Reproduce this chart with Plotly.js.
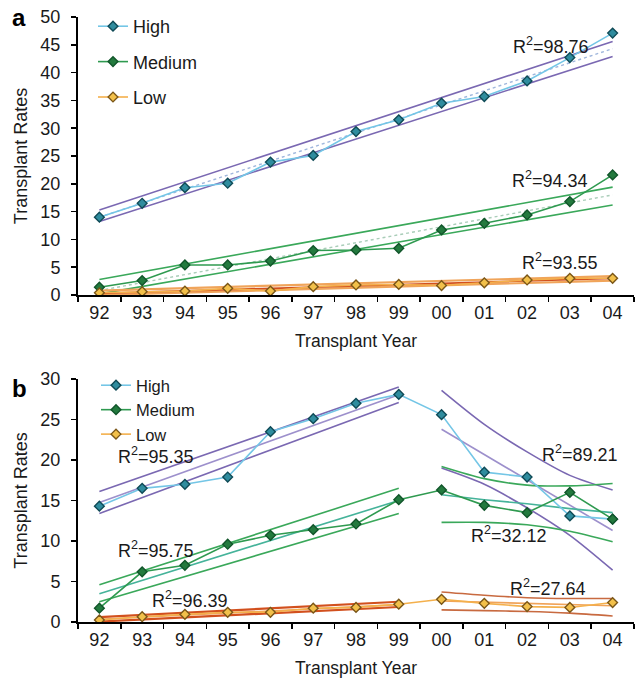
<!DOCTYPE html>
<html>
<head>
<meta charset="utf-8">
<script src="https://cdn.plot.ly/plotly-3.0.1.min.js"></script>
<style>html,body{margin:0;padding:0;background:#fff;}#chart{width:636px;height:678px;}</style>
</head>
<body>
<div id="chart"></div>
<script>
// ---------- data ----------
const years = ['92','93','94','95','96','97','98','99','00','01','02','03','04'];
const spanAll = ['92','04'];
const spanPre = ['92','99'];
const spanPost = ['00','01','02','03','04'];
const seriesNames = ['High','Medium','Low'];

// panel a
const aHigh = [14.0,16.5,19.3,20.1,23.9,25.1,29.4,31.5,34.5,35.7,38.5,42.7,47.1];
const aMed  = [1.4,2.6,5.4,5.4,6.1,8.0,8.1,8.4,11.7,12.9,14.4,16.8,21.6];
const aLow  = [0.4,0.6,0.7,1.2,0.7,1.5,1.8,1.9,1.7,2.2,2.7,3.0,3.0];
const aHighUpper = [15.3,45.6], aHighFit = [14.0,44.3], aHighLower = [13.2,42.9];
const aMedUpper  = [2.8,19.4],  aMedFit  = [0.8,18.0],  aMedLower  = [0.2,16.2];
const aLowUpper  = [0.8,3.4],   aLowFit  = [0.3,3.0],   aLowLower  = [0.0,2.6];
const aR2 = ['98.76','94.34','93.55'];

// panel b
const bHigh = [14.3,16.5,17.0,17.9,23.5,25.1,27.0,28.1,25.6,18.5,17.9,13.1,12.7];
const bMed  = [1.7,6.2,7.0,9.6,10.7,11.4,12.1,15.1,16.3,14.4,13.5,16.0,12.7];
const bLow  = [0.25,0.65,0.95,1.2,1.2,1.7,1.8,2.2,2.8,2.3,1.9,1.8,2.4];
const bHighPreUpper = [16.1,29.0], bHighPreFit = [14.75,28.05], bHighPreLower = [13.4,27.1];
const bMedPreUpper  = [4.6,16.5],  bMedPreFit  = [3.5,15.0],   bMedPreLower  = [2.5,13.4];
const bLowPreUpper  = [0.6,2.5],   bLowPreFit  = [0.34,2.15],  bLowPreLower  = [0.05,1.85];
const bHighPostUpper = [28.6,24.4,21.0,18.1,16.3];
const bHighPostFit   = [23.8,20.7,17.6,14.4,11.3];
const bHighPostLower = [19.0,17.0,14.1,10.7,6.4];
const bMedPostUpper  = [19.2,17.7,16.9,16.8,17.1];
const bMedPostFit    = [15.7,15.1,14.6,14.0,13.5];
const bMedPostLower  = [12.3,12.3,12.0,11.2,9.9];
const bLowPostUpper  = [3.7,3.3,3.0,2.9,2.9];
const bLowPostFit    = [2.6,2.45,2.3,2.15,2.0];
const bLowPostLower  = [1.5,1.4,1.3,1.1,0.75];
const bR2 = ['95.35','89.21','95.75','32.12','96.39','27.64'];

// ---------- styles ----------
const FONT = 'Liberation Sans, Arial, Helvetica, sans-serif';
const sty = {
  High:   {line:'#74c6e6', fill:'#2f8c9e', edge:'#0f4a56'},
  Medium: {line:'#2f9a50', fill:'#237a3e', edge:'#11552a'},
  Low:    {line:'#f4b04c', fill:'#f2c04a', edge:'#7a5618'}
};
const purple = '#7a68b2', purpleLight = '#9d90cc';
const green = '#3aa85a', greenMid = '#45b39a';
const red = '#d2501e', orange = '#f0a45a', brown = '#c86a40';

function line(x, y, xa, ya, color, width, dash, shape) {
  return {x:x, y:y, xaxis:xa, yaxis:ya, type:'scatter', mode:'lines', showlegend:false,
          hoverinfo:'skip', line:{color:color, width:width||1.5, dash:dash||'solid', shape:shape||'linear', smoothing:0.8}};
}
function data(y, name, xa, ya, leg, show) {
  const s = sty[name];
  return {x:years, y:y, xaxis:xa, yaxis:ya, type:'scatter', mode:'lines+markers', name:name,
          legend:leg, legendgroup:leg+name, showlegend:show,
          line:{color:s.line, width:1.6},
          marker:{symbol:'diamond', size:7.5, color:s.fill, line:{color:s.edge, width:1.4}}};
}

const traces = [
  // panel a regression bands
  line(spanAll, aHighUpper, 'x', 'y', purple, 1.6),
  line(spanAll, aHighLower, 'x', 'y', purple, 1.6),
  line(spanAll, aHighFit,   'x', 'y', '#9fb6dc', 1.4, 'dot'),
  line(spanAll, aMedUpper,  'x', 'y', green, 1.6),
  line(spanAll, aMedLower,  'x', 'y', green, 1.6),
  line(spanAll, aMedFit,    'x', 'y', '#a9cdb8', 1.4, 'dot'),
  line(spanAll, aLowUpper,  'x', 'y', orange, 2.2),
  line(spanAll, aLowLower,  'x', 'y', orange, 2.2),
  line(spanAll, aLowFit,    'x', 'y', red, 1.8),
  // panel b regression bands, 1992-1999
  line(spanPre, bHighPreUpper, 'x2', 'y2', purple, 1.6),
  line(spanPre, bHighPreFit,   'x2', 'y2', purpleLight, 1.6),
  line(spanPre, bHighPreLower, 'x2', 'y2', purple, 1.6),
  line(spanPre, bMedPreUpper,  'x2', 'y2', green, 1.6),
  line(spanPre, bMedPreFit,    'x2', 'y2', greenMid, 1.6),
  line(spanPre, bMedPreLower,  'x2', 'y2', green, 1.6),
  line(spanPre, bLowPreUpper,  'x2', 'y2', red, 2.2),
  line(spanPre, bLowPreLower,  'x2', 'y2', red, 2.2),
  line(spanPre, bLowPreFit,    'x2', 'y2', orange, 1.6),
  // panel b regression bands, 2000-2004
  line(spanPost, bHighPostUpper, 'x2', 'y2', purple, 1.6, 'solid', 'spline'),
  line(spanPost, bHighPostFit,   'x2', 'y2', purpleLight, 1.6),
  line(spanPost, bHighPostLower, 'x2', 'y2', purple, 1.6, 'solid', 'spline'),
  line(spanPost, bMedPostUpper,  'x2', 'y2', green, 1.6, 'solid', 'spline'),
  line(spanPost, bMedPostFit,    'x2', 'y2', greenMid, 1.6),
  line(spanPost, bMedPostLower,  'x2', 'y2', green, 1.6, 'solid', 'spline'),
  line(spanPost, bLowPostUpper,  'x2', 'y2', brown, 1.6, 'solid', 'spline'),
  line(spanPost, bLowPostFit,    'x2', 'y2', orange, 1.6),
  line(spanPost, bLowPostLower,  'x2', 'y2', brown, 1.6, 'solid', 'spline'),
  // observed series
  data(aHigh, 'High',   'x', 'y', 'legend', true),
  data(aMed,  'Medium', 'x', 'y', 'legend', true),
  data(aLow,  'Low',    'x', 'y', 'legend', true),
  data(bHigh, 'High',   'x2', 'y2', 'legend2', true),
  data(bMed,  'Medium', 'x2', 'y2', 'legend2', true),
  data(bLow,  'Low',    'x2', 'y2', 'legend2', true)
];

// ---------- layout ----------
const W = 636, H = 678, L = 78, R = 2, T = 17, B = 56;
const pw = W - L - R, ph = H - T - B;
const px = v => (v - L) / pw;          // pixel -> paper x
const py = v => (H - B - v) / ph;      // pixel -> paper y

const tickFont = {family:FONT, size:18, color:'#1a1a1a'};
function xAxis(domAnchor) {
  return {type:'category', categoryorder:'array', categoryarray:years, range:[-0.5,12.5],
          anchor:domAnchor, domain:[0,1], showline:true, linecolor:'#000', linewidth:2,
          ticks:'outside', tickson:'boundaries', ticklen:5, tickwidth:1.5, tickcolor:'#000',
          showgrid:false, zeroline:false, tickfont:tickFont, fixedrange:true,
          title:{text:'Transplant Year', font:{family:FONT, size:17.5, color:'#1a1a1a'}, standoff:13}};
}
function yAxis(domain, max, anchor) {
  return {domain:domain, range:[0,max], dtick:5, anchor:anchor, showline:true, linecolor:'#000', linewidth:2,
          ticks:'outside', ticklen:5, tickwidth:1.5, tickcolor:'#000', showgrid:false, zeroline:false,
          tickfont:tickFont, fixedrange:true, ticklabelstandoff:7,
          title:{text:'Transplant Rates', font:{family:FONT, size:18, color:'#1a1a1a'}, standoff:8}};
}

function r2(text, left, cy) {
  return {text:'R<sup>2</sup>=' + text, xref:'paper', yref:'paper', x:px(left), y:py(cy),
          xanchor:'left', yanchor:'middle', showarrow:false, font:{family:FONT, size:18, color:'#1a1a1a'}};
}

const layout = {
  width:W, height:H, margin:{l:L, r:R, t:T, b:B}, paper_bgcolor:'#fff', plot_bgcolor:'#fff',
  showlegend:true,
  xaxis: xAxis('y'),
  yaxis: yAxis([py(295), 1], 50, 'x'),
  xaxis2: xAxis('y2'),
  yaxis2: yAxis([0, py(379)], 30, 'x2'),
  legend: {x:px(93), y:py(8), xanchor:'left', yanchor:'top', bgcolor:'rgba(0,0,0,0)',
           traceorder:'grouped', tracegroupgap:9, font:{family:FONT, size:18, color:'#1a1a1a'}, itemwidth:30},
  legend2:{x:px(96), y:py(368), xanchor:'left', yanchor:'top', bgcolor:'rgba(0,0,0,0)',
           traceorder:'grouped', tracegroupgap:0, font:{family:FONT, size:16.5, color:'#1a1a1a'}, itemwidth:30},
  annotations: [
    {text:'<b>a</b>', xref:'paper', yref:'paper', x:px(10), y:py(17), xanchor:'left', yanchor:'middle',
     showarrow:false, font:{family:FONT, size:24, color:'#000'}},
    {text:'<b>b</b>', xref:'paper', yref:'paper', x:px(10), y:py(388), xanchor:'left', yanchor:'middle',
     showarrow:false, font:{family:FONT, size:24, color:'#000'}},
    r2(aR2[0], 511, 45),
    r2(aR2[1], 510, 180),
    r2(aR2[2], 520, 261),
    r2(bR2[0], 116, 455),
    r2(bR2[1], 540, 454),
    r2(bR2[2], 116, 549),
    r2(bR2[3], 469, 534),
    r2(bR2[4], 150, 599),
    r2(bR2[5], 508, 587)
  ]
};

Plotly.newPlot('chart', traces, layout, {displayModeBar:false, staticPlot:true});
</script>
</body>
</html>
